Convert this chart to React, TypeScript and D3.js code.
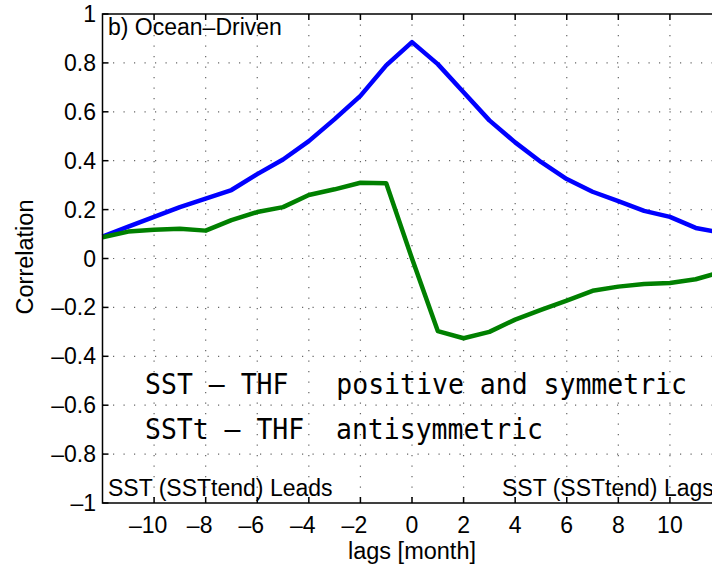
import React, { useEffect, useRef } from "react";
import * as d3 from "d3";

// lags in months
const lags = [-12, -11, -10, -9, -8, -7, -6, -5, -4, -3, -2, -1, 0, 1, 2, 3, 4, 5, 6, 7, 8, 9, 10, 11, 12];

// SST - THF correlation (blue)
const sstThf = [
  0.09, 0.13, 0.17, 0.21, 0.245, 0.28, 0.345, 0.405, 0.48, 0.57, 0.665, 0.79, 0.885,
  0.795, 0.68, 0.565, 0.475, 0.395, 0.325, 0.273, 0.235, 0.195, 0.17, 0.125, 0.105,
];

// SSTt - THF correlation (green)
const ssttThf = [
  0.087, 0.11, 0.118, 0.122, 0.114, 0.157, 0.19, 0.21, 0.26, 0.283, 0.31, 0.308, 0.0,
  -0.297, -0.326, -0.3, -0.25, -0.21, -0.172, -0.132, -0.115, -0.104, -0.1, -0.085, -0.055,
];

const xTicks = [-10, -8, -6, -4, -2, 0, 2, 4, 6, 8, 10];
const yTicks = [-1, -0.8, -0.6, -0.4, -0.2, 0, 0.2, 0.4, 0.6, 0.8, 1];

const fmtY = (v: number) => {
  if (v === 0) return "0";
  const s = Math.abs(v) === 1 ? "1" : String(Math.abs(v));
  return (v < 0 ? "\u2013" : "") + s;
};
const fmtX = (v: number) => (v < 0 ? "\u2013" + Math.abs(v) : String(v));

function App() {
  const ref = useRef<SVGSVGElement | null>(null);

  useEffect(() => {
    document.body.style.margin = "0";
    if (!ref.current) return;
    const svg = d3.select(ref.current);
    svg.selectAll("*").remove();

    const x = d3.scaleLinear().domain([-12, 12]).range([102.5, 721.5]);
    const y = d3.scaleLinear().domain([-1, 1]).range([503, 14]);
    const font = "'Liberation Sans', Arial, sans-serif";

    // grid
    const grid = svg.append("g").attr("stroke", "#666").attr("stroke-width", 1.2).attr("stroke-dasharray", "1.2,9.3");
    grid.selectAll(".gx").data(xTicks).enter().append("line")
      .attr("x1", (d) => x(d)).attr("x2", (d) => x(d)).attr("y1", y(1)).attr("y2", y(-1));
    grid.selectAll(".gy").data(yTicks.slice(1, -1)).enter().append("line")
      .attr("x1", x(-12)).attr("x2", x(12)).attr("y1", (d) => y(d)).attr("y2", (d) => y(d));

    // lines
    const line = d3.line<number>().x((_, i) => x(lags[i])).y((d) => y(d));
    svg.append("path").attr("d", line(sstThf)).attr("fill", "none").attr("stroke", "#0000ff")
      .attr("stroke-width", 4.5).attr("stroke-linejoin", "round");
    svg.append("path").attr("d", line(ssttThf)).attr("fill", "none").attr("stroke", "#008000")
      .attr("stroke-width", 4.5).attr("stroke-linejoin", "round");

    // box
    const ax = svg.append("g").attr("stroke", "#000").attr("stroke-width", 1.5);
    ax.append("rect").attr("x", x(-12)).attr("y", y(1)).attr("width", x(12) - x(-12)).attr("height", y(-1) - y(1)).attr("fill", "none");
    ax.selectAll(".tx").data(xTicks).enter().append("path")
      .attr("d", (d) => `M${x(d)},${y(-1)}v-6M${x(d)},${y(1)}v6`);
    ax.selectAll(".ty").data(yTicks).enter().append("path")
      .attr("d", (d) => `M${x(-12)},${y(d)}h6`);

    // tick labels
    svg.selectAll(".ly").data(yTicks).enter().append("text")
      .attr("x", 96).attr("y", (d) => y(d) + 8).attr("text-anchor", "end")
      .attr("font-family", font).attr("font-size", 23).text((d) => fmtY(d));
    svg.selectAll(".lx").data(xTicks).enter().append("text")
      .attr("x", (d) => x(d) - (d < 0 ? 6 : 0)).attr("y", 533).attr("text-anchor", "middle")
      .attr("font-family", font).attr("font-size", 23).text((d) => fmtX(d));

    svg.append("text").attr("x", x(0)).attr("y", 559).attr("text-anchor", "middle")
      .attr("font-family", font).attr("font-size", 23.5).text("lags [month]");
    svg.append("text").attr("transform", "translate(33,257) rotate(-90)").attr("text-anchor", "middle")
      .attr("font-family", font).attr("font-size", 23.5).text("Correlation");

    svg.append("text").attr("x", 108).attr("y", 35).attr("font-family", font).attr("font-size", 23)
      .text("b) Ocean\u2013Driven");
    svg.append("text").attr("x", 108).attr("y", 496).attr("font-family", font).attr("font-size", 23)
      .text("SST (SSTtend) Leads");
    svg.append("text").attr("x", 502).attr("y", 496).attr("font-family", font).attr("font-size", 23)
      .text("SST (SSTtend) Lags");

    const mono = "'DejaVu Sans Mono', monospace";
    svg.append("text").attr("x", 145).attr("y", 394).attr("font-family", mono).attr("font-size", 29)
      .attr("textLength", 542).attr("lengthAdjust", "spacingAndGlyphs").attr("xml:space", "preserve")
      .style("white-space", "pre").text("SST \u2013 THF   positive and symmetric");
    svg.append("text").attr("x", 145).attr("y", 439).attr("font-family", mono).attr("font-size", 29)
      .attr("textLength", 398).attr("lengthAdjust", "spacingAndGlyphs").attr("xml:space", "preserve")
      .style("white-space", "pre").text("SSTt \u2013 THF  antisymmetric");
  }, []);

  return (
    <svg ref={ref} width={712} height={566} style={{ display: "block", background: "#fff" }} />
  );
}

export default App;
